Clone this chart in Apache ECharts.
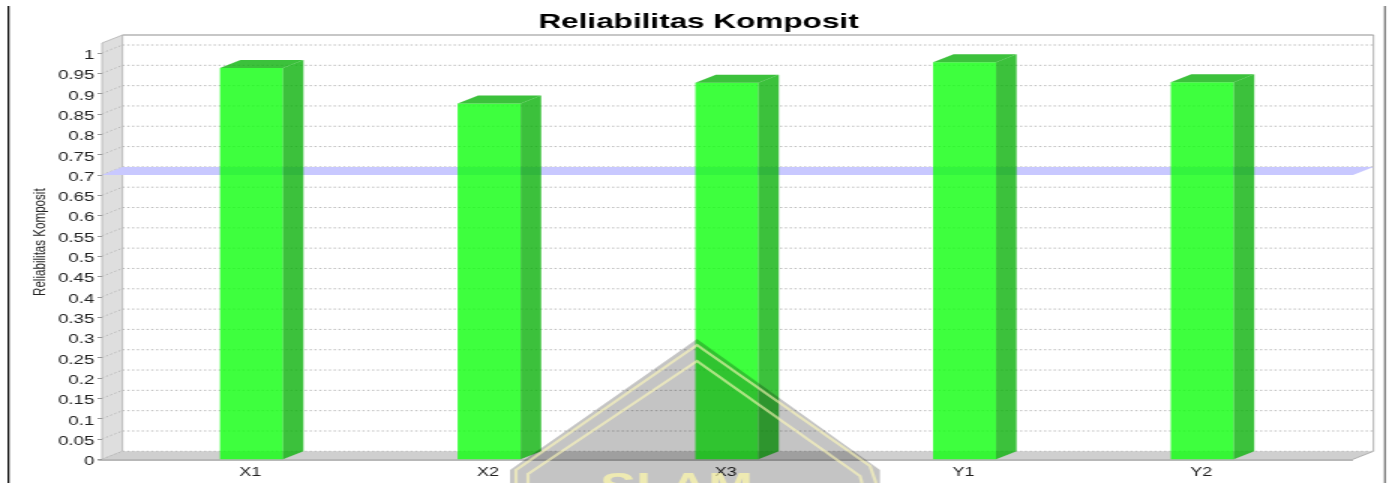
<!doctype html>
<html lang="en">
  <head>
    <meta charset="utf-8">
    <title>Reliabilitas Komposit</title>
    <script src="https://cdn.jsdelivr.net/npm/echarts@6/dist/echarts.min.js"></script>
    <style>
      html, body {margin: 0; height: 100%; overflow: hidden; background: #fff;}
      /* the original picture is a chart stretched sideways, so draw it narrow and stretch it the same way */
      #container {width: 927px; height: 483px; transform: scaleX(1.5); transform-origin: left top; filter: blur(0.3px);}
    </style>
  </head>
  <body>
    <div id="container"></div>
    <script type="text/javascript">
      var categories = ['X1', 'X2', 'X3', 'Y1', 'Y2'];
      var values = [0.963, 0.876, 0.927, 0.977, 0.928];
      var threshold = [0.7];
      var yTicks = [0, 0.05, 0.1, 0.15, 0.2, 0.25, 0.3, 0.35, 0.4, 0.45, 0.5, 0.55, 0.6, 0.65, 0.7, 0.75, 0.8, 0.85, 0.9, 0.95, 1];

      var SX = 1.5;       // sideways stretch of the page
      var DX = 20.5 / SX; // depth of the fake 3d, x
      var DY = 8;         // depth of the fake 3d, y
      var LEFT = 102 / SX;
      var RIGHT = 1353 / SX;
      var TOP = 43;
      var BOTTOM = 459.3;

      function px(x) {return x / SX;}

      function poly(points, style, z) {
        return {type: 'polygon', z: z, silent: true, shape: {points: points}, style: style};
      }
      function line(x1, y1, x2, y2, stroke, width, z) {
        return {type: 'line', z: z, silent: true, shape: {x1: x1, y1: y1, x2: x2, y2: y2},
          style: {stroke: stroke, lineWidth: width}};
      }

      function renderGridLine(params, api) {
        var y = api.coord([0, api.value(0)])[1];
        var style = {stroke: '#b8b8b8', lineWidth: 1, lineDash: [1.4, 1.8], fill: null};
        return {type: 'group', children: [
          {type: 'line', shape: {x1: LEFT, y1: y, x2: LEFT + DX, y2: y - DY}, style: style},
          {type: 'line', shape: {x1: LEFT + DX, y1: y - DY, x2: RIGHT + DX, y2: y - DY}, style: style}
        ]};
      }

      function renderBand(params, api) {
        var y = api.coord([0, api.value(0)])[1];
        return {type: 'polygon',
          shape: {points: [[LEFT, y], [LEFT + DX, y - DY], [RIGHT + DX, y - DY], [RIGHT, y]]},
          style: {fill: '#c8c8ff'}};
      }

      function renderBar(params, api) {
        var top = api.coord([api.value(0), api.value(1)]);
        var bottom = api.coord([api.value(0), 0]);
        var w = api.size([1, 0])[0] * 0.265;
        var x0 = top[0] - w / 2;
        var x1 = top[0] + w / 2;
        var dark = 'rgba(11,178,11,0.8)';
        return {type: 'group', children: [
          {type: 'rect', shape: {x: x0, y: top[1], width: w, height: bottom[1] - top[1]},
            style: {fill: 'rgba(14,255,14,0.8)'}},
          {type: 'polygon', shape: {points: [[x1, top[1]], [x1 + DX, top[1] - DY], [x1 + DX, bottom[1] - DY], [x1, bottom[1]]]},
            style: {fill: dark}},
          {type: 'polygon', shape: {points: [[x0, top[1]], [x0 + DX, top[1] - DY], [x1 + DX, top[1] - DY], [x1, top[1]]]},
            style: {fill: dark}}
        ]};
      }

      // plot box behind the bars and the stamp lying over the page
      var yellow = 'rgba(255,250,185,0.6)';
      var graphics = [
        line(px(8.5), 6, px(8.5), 483, '#000000', 1.2, -1),
        line(px(1385), 6, px(1385), 483, '#808080', 1.4, -1),
        poly([[LEFT, BOTTOM], [LEFT, TOP], [LEFT + DX, TOP - DY], [LEFT + DX, BOTTOM - DY]], {fill: '#dedede', stroke: '#a8a8a8', lineWidth: 0.7}, -1),
        poly([[LEFT, BOTTOM], [LEFT + DX, BOTTOM - DY], [RIGHT + DX, BOTTOM - DY], [RIGHT, BOTTOM]], {fill: '#cfcfcf'}, -1),
        line(LEFT + DX, TOP - DY, RIGHT + DX, TOP - DY, '#b4b4b4', 1.5, -1),
        line(RIGHT + DX, TOP - DY, RIGHT + DX, BOTTOM - DY, '#a0a0a0', 0.8, -1),
        line(RIGHT, BOTTOM, RIGHT + DX, BOTTOM - DY, '#a0a0a0', 0.8, -1),
        line(LEFT - 2.7, BOTTOM + 0.7, RIGHT, BOTTOM + 0.7, '#b8b8b8', 2, -1),
        poly([[px(697), 339], [px(880), 470], [px(880), 483], [px(510), 483], [px(510), 470]], {fill: 'rgba(0,0,0,0.23)'}, 100),
        {type: 'polyline', z: 101, silent: true, shape: {points: [[px(516), 483], [px(516), 470], [px(697), 345], [px(870), 466], [px(876), 483]]},
          style: {stroke: yellow, lineWidth: 2.2, fill: null}},
        {type: 'polyline', z: 101, silent: true, shape: {points: [[px(528), 483], [px(528), 474], [px(697), 361], [px(860), 476], [px(862), 483]]},
          style: {stroke: yellow, lineWidth: 2.2, fill: null}},
        {type: 'text', z: 101, silent: true, x: px(600), y: 471,
          style: {text: 'SLAM', fill: 'rgba(255,250,170,0.7)', font: 'bold 36px "Liberation Sans"'}}
      ];

      var dom = document.getElementById('container');
      var myChart = echarts.init(dom);

      var option = {
        animation: false,
        title: {
          text: 'Reliabilitas Komposit',
          left: px(691),
          top: 7,
          textAlign: 'center',
          textStyle: {fontFamily: 'Liberation Sans', fontWeight: 'bold', fontSize: 21, color: '#000'}
        },
        grid: {left: px(132.6), width: px(1188.5), top: 53, bottom: 483 - BOTTOM},
        xAxis: {
          type: 'category',
          data: categories,
          axisLine: {show: false},
          axisTick: {show: false},
          axisLabel: {fontFamily: 'Liberation Sans', fontSize: 12, color: '#222', margin: 7, padding: [0, 1.5, 0, 0]}
        },
        yAxis: {
          type: 'value',
          min: 0,
          max: 1,
          interval: 0.05,
          offset: px(132.6) - LEFT,
          name: 'Reliabilitas Komposit',
          nameLocation: 'middle',
          nameGap: 35,
          nameMoveOverlap: false,
          nameTextStyle: {fontFamily: 'Liberation Sans', fontSize: 11.6, color: '#222', padding: [0, 0, 0, 28]},
          splitLine: {show: false},
          axisLine: {show: false},
          axisTick: {show: true, length: 3, lineStyle: {color: '#999'}},
          axisLabel: {fontFamily: 'Liberation Sans', fontSize: 12.5, color: '#222', margin: 5, verticalAlign: 'top', lineHeight: 5}
        },
        graphic: {elements: graphics},
        series: [
          {name: 'grid', type: 'custom', z: 1, silent: true, renderItem: renderGridLine, data: yTicks.map(function (v) {return [v];}), encode: {y: 0}},
          {name: 'threshold', type: 'custom', z: 1, silent: true, renderItem: renderBand, data: threshold.map(function (v) {return [v];}), encode: {y: 0}},
          {name: 'Reliabilitas Komposit', type: 'custom', z: 2, renderItem: renderBar, data: values.map(function (v, i) {return [i, v];}), encode: {x: 0, y: 1}}
        ]
      };

      myChart.setOption(option, true);
    </script>
  </body>
</html>
